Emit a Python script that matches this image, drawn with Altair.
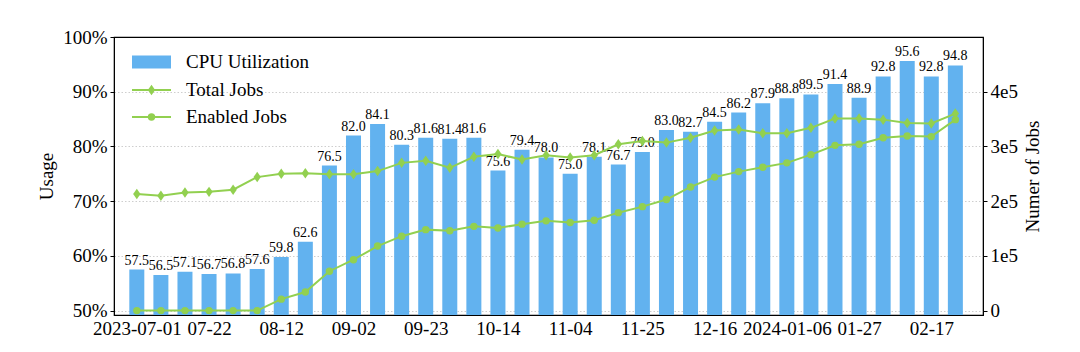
import altair as alt
import pandas as pd

weeks = [
    "2023-07-01", "2023-07-08", "2023-07-15", "2023-07-22", "2023-07-29", "2023-08-05",
    "2023-08-12", "2023-08-19", "2023-08-26", "2023-09-02", "2023-09-09", "2023-09-16",
    "2023-09-23", "2023-09-30", "2023-10-07", "2023-10-14", "2023-10-21", "2023-10-28",
    "2023-11-04", "2023-11-11", "2023-11-18", "2023-11-25", "2023-12-02", "2023-12-09",
    "2023-12-16", "2023-12-23", "2023-12-30", "2024-01-06", "2024-01-13", "2024-01-20",
    "2024-01-27", "2024-02-03", "2024-02-10", "2024-02-17", "2024-02-24",
]
cpu_util = [
    57.5, 56.5, 57.1, 56.7, 56.8, 57.6, 59.8, 62.6, 76.5, 82.0, 84.1, 80.3,
    81.6, 81.4, 81.6, 75.6, 79.4, 78.0, 75.0, 78.1, 76.7, 79.0, 83.0, 82.7,
    84.5, 86.2, 87.9, 88.8, 89.5, 91.4, 88.9, 92.8, 95.6, 92.8, 94.8,
]
total_jobs = [
    213000, 210000, 216000, 217000, 221000, 244000, 250000, 251000, 249000, 249000,
    255000, 270000, 274000, 261000, 281000, 286000, 276000, 284000, 280000, 284000,
    304000, 310000, 307000, 316000, 329000, 331000, 324000, 324000, 334000, 351000,
    351000, 349000, 343000, 342000, 360000,
]
enabled_jobs = [
    0, 0, 0, 0, 0, 0, 21000, 34000, 72000, 93000,
    118000, 136000, 148000, 146000, 154000, 151000, 158000, 164000, 161000, 165000,
    179000, 190000, 203000, 226000, 244000, 254000, 262000, 270000, 285000, 302000,
    304000, 316000, 319000, 318000, 349000,
]
tick_labels = ["2023-07-01", "07-22", "08-12", "09-02", "09-23", "10-14",
               "11-04", "11-25", "12-16", "2024-01-06", "01-27", "02-17"]
tick_positions = [0, 3, 6, 9, 12, 15, 18, 21, 24, 27, 30, 33]
legend_labels = ["CPU Utilization", "Total Jobs", "Enabled Jobs"]

df = pd.DataFrame({
    "idx": list(range(len(weeks))),
    "week": weeks,
    "cpu": cpu_util,
    "total": total_jobs,
    "enabled": enabled_jobs,
})
df["cpu_label"] = [f"{v:.1f}" for v in cpu_util]

FONT = "Liberation Serif"
BLUE = "#62b2ef"
GREEN = "#92d050"
DIAMOND = "M0,-1L0.7,0L0,1L-0.7,0Z"

label_arr = "[" + ",".join(f"'{t}'" for t in tick_labels) + "]"
pos_arr = "[" + ",".join(str(p) for p in tick_positions) + "]"

x_enc = alt.X(
    "idx:Q",
    scale=alt.Scale(domain=[-0.74, 34.94], nice=False, zero=False),
    axis=alt.Axis(
        values=tick_positions,
        labelExpr=f"{label_arr}[indexof({pos_arr}, datum.value)]",
        title=None, grid=False, ticks=False, labelPadding=4,
        labelFont=FONT, labelFontSize=19, labelColor="#000",
        domainColor="#000", labelFlush=False, labelOverlap=False,
    ),
)

y_left = alt.Y(
    "cpu:Q",
    scale=alt.Scale(domain=[49.2, 100], nice=False, zero=False),
    axis=alt.Axis(
        values=[50, 60, 70, 80, 90, 100],
        labelExpr="datum.value + '%'",
        title="Usage", titleFont=FONT, titleFontSize=19, titleFontWeight="normal",
        titleColor="#000", titlePadding=6,
        labelFont=FONT, labelFontSize=19, labelColor="#000", labelPadding=3,
        tickSize=4, tickColor="#000", domainColor="#000",
        grid=True, gridColor="#c8c8c8", gridDash=[1.5, 2], gridWidth=0.9,
        gridOpacity={"condition": {"test": "datum.value >= 100", "value": 0}, "value": 1},
        labelFlush=False,
    ),
)

bars = alt.Chart(df).mark_bar(color=BLUE, size=15, clip=True).encode(x=x_enc, y=y_left)
bar_text = alt.Chart(df).mark_text(
    font=FONT, fontSize=14, baseline="bottom", dy=-2, color="#000"
).encode(x="idx:Q", y="cpu:Q", text="cpu_label:N")

left = alt.layer(bars, bar_text)

y_right_scale = alt.Scale(domain=[-8000, 500000], nice=False, zero=False)
y_right = alt.Y(
    "total:Q",
    scale=y_right_scale,
    axis=alt.Axis(
        orient="right",
        values=[0, 100000, 200000, 300000, 400000],
        labelExpr="datum.value == 0 ? '0' : (datum.value / 100000) + 'e5'",
        title="Numer of Jobs", titleFont=FONT, titleFontSize=19, titleFontWeight="normal",
        titleColor="#000", titleAngle=270, titleX=49, titleY=139,
        titleAlign="center", titleBaseline="middle",
        labelFont=FONT, labelFontSize=19, labelColor="#000", labelPadding=3,
        tickSize=4, tickColor="#000", domainColor="#000", grid=False,
        labelFlush=False,
    ),
)

total_line = alt.Chart(df).mark_line(color=GREEN, strokeWidth=2).encode(x="idx:Q", y=y_right)
total_pts = alt.Chart(df).mark_point(
    shape=DIAMOND, filled=True, color=GREEN, size=110, opacity=1
).encode(x="idx:Q", y="total:Q")
enabled_line = alt.Chart(df).mark_line(color=GREEN, strokeWidth=2).encode(x="idx:Q", y="enabled:Q")
enabled_pts = alt.Chart(df).mark_point(
    shape="circle", filled=True, color=GREEN, size=55, opacity=1
).encode(x="idx:Q", y="enabled:Q")

right = alt.layer(total_line, enabled_line, total_pts, enabled_pts)

# legend (inside top-left)
leg_cpu = pd.DataFrame({"label": [legend_labels[0]]})
leg_tot = pd.DataFrame({"label": [legend_labels[1]]})
leg_en = pd.DataFrame({"label": [legend_labels[2]]})

leg_rect = alt.Chart(leg_cpu).mark_rect(color=BLUE).encode(
    x=alt.value(18), x2=alt.value(57), y=alt.value(18.5), y2=alt.value(31.5))
leg_tot_rule = alt.Chart(leg_tot).mark_rule(color=GREEN, strokeWidth=2).encode(
    x=alt.value(18), x2=alt.value(57), y=alt.value(53))
leg_tot_pt = alt.Chart(leg_tot).mark_point(
    shape=DIAMOND, filled=True, color=GREEN, size=110, opacity=1).encode(
    x=alt.value(37.5), y=alt.value(53))
leg_en_rule = alt.Chart(leg_en).mark_rule(color=GREEN, strokeWidth=2).encode(
    x=alt.value(18), x2=alt.value(57), y=alt.value(80))
leg_en_pt = alt.Chart(leg_en).mark_point(
    shape="circle", filled=True, color=GREEN, size=55, opacity=1).encode(
    x=alt.value(37.5), y=alt.value(80))

def leg_text(d, y):
    return alt.Chart(d).mark_text(
        font=FONT, fontSize=19, align="left", baseline="middle", color="#000"
    ).encode(x=alt.value(72), y=alt.value(y), text="label:N")

legend = alt.layer(
    leg_rect, leg_tot_rule, leg_tot_pt, leg_en_rule, leg_en_pt,
    leg_text(leg_cpu, 25), leg_text(leg_tot, 53), leg_text(leg_en, 80),
)

chart = alt.layer(left, right, legend).resolve_scale(y="independent").properties(
    width=869, height=278,
    autosize=alt.AutoSizeParams(type="none"),
    padding={"left": 114, "top": 37, "right": 97, "bottom": 37},
    background="white",
).configure_view(stroke="#000", strokeWidth=1.2)

chart.save("out.html", embed_options={"renderer": "svg", "actions": False})
